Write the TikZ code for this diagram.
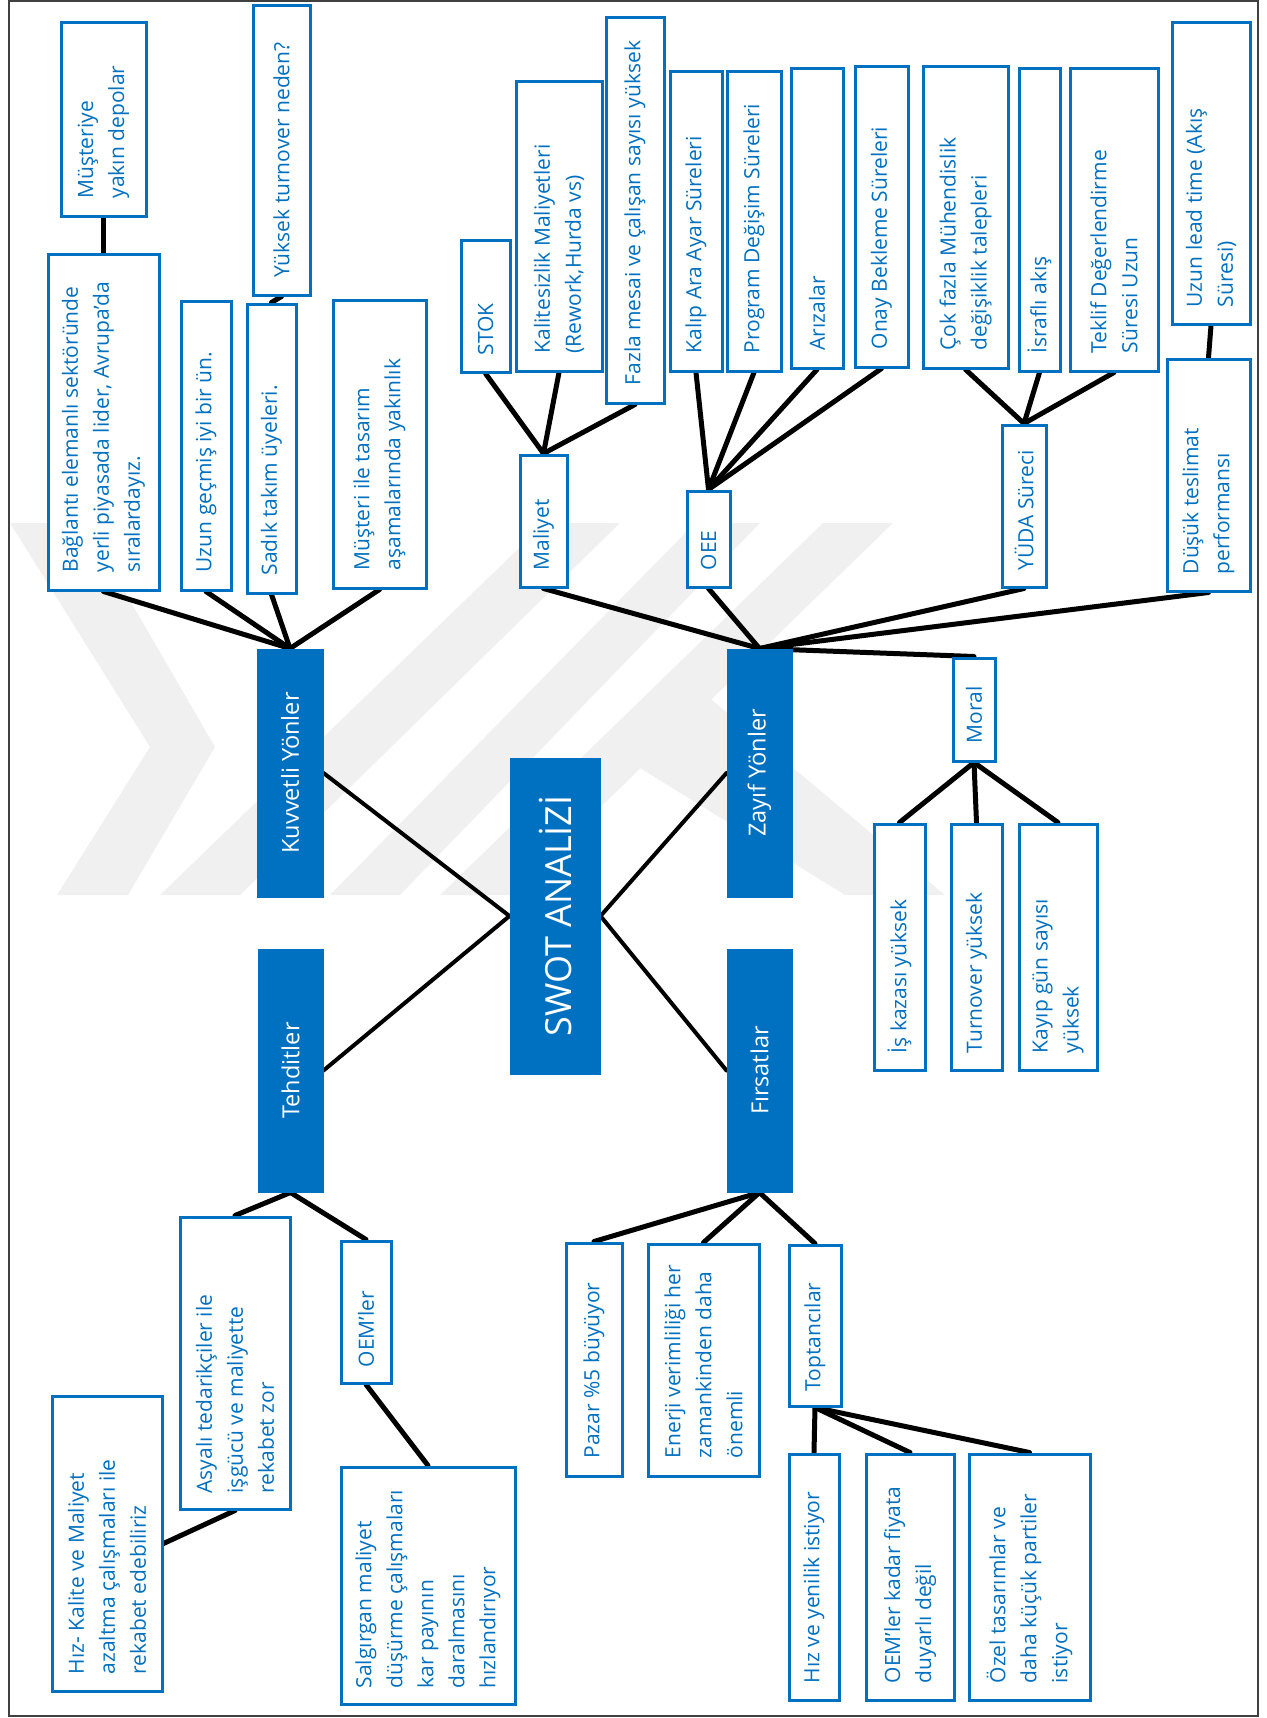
\documentclass[tikz,border=0pt]{standalone}
\usepackage{fontspec}
\setmainfont{Open Sans}
\usetikzlibrary{calc,fit,backgrounds}
\definecolor{swblue}{HTML}{0070C0}
\tikzset{
  wbox/.style={draw=swblue, line width=3pt, fill=white, inner sep=0pt, rectangle},
  catbox/.style={fill=swblue, draw=swblue, line width=1pt, inner sep=0pt, rectangle},
  wtxt/.style={rotate=90, anchor=west, align=left, text=swblue, inner sep=0pt,
    font=\fontsize{21pt}{31pt}\selectfont},
  cattxt/.style={rotate=90, anchor=center, text=white, inner sep=0pt,
    font=\fontsize{23.5pt}{28pt}\selectfont},
  conn/.style={line width=5pt, line cap=round, black},
  hubconn/.style={line width=4pt, line cap=round, black},
  wmark/.style={fill=black!6, draw=none},
  pageframe/.style={draw=black!75, line width=1.5pt},
}
\begin{document}
\begin{tikzpicture}[x=1pt,y=1pt]
\useasboundingbox (0,0) rectangle (1266,-1718);

% ---------- centre and the four headings ----------
\node[catbox, fit={(510,-758)(600,-1074)}] (swot) {};
\node[cattxt, font=\fontsize{36pt}{40pt}\selectfont] (swotT) at (swot.center) {SWOT ANALİZİ};
\node[catbox, fit={(257,-649)(323,-897)}] (kuv) {};
\node[cattxt] (kuvT) at (kuv.center) {Kuvvetli Yönler};
\node[catbox, fit={(727,-649)(792,-897)}] (zay) {};
\node[cattxt] (zayT) at (zay.center) {Zayıf Yönler};
\node[catbox, fit={(258,-949)(323,-1192)}] (teh) {};
\node[cattxt] (tehT) at (teh.center) {Tehditler};
\node[catbox, fit={(727,-949)(792,-1192)}] (fir) {};
\node[cattxt] (firT) at (fir.center) {Fırsatlar};

% ---------- strengths ----------
\node[wbox, fit={(61,-23)(146,-216)}] (mus) {};
\node[wtxt] (musT) at ($(mus.south)+(0,19)$) {Müşteriye\\yakın depolar};
\node[wbox, fit={(48,-254)(159,-590)}] (bag) {};
\node[wtxt] (bagT) at ($(bag.south)+(0,19)$) {Bağlantı elemanlı sektöründe\\yerli piyasada lider, Avrupa'da\\sıralardayız.};
\node[wbox, fit={(181,-301)(231,-590)}] (uzun) {};
\node[wtxt] (uzunT) at ($(uzun.south)+(0,19)$) {Uzun geçmiş iyi bir ün.};
\node[wbox, fit={(247,-304)(296,-593)}] (sadik) {};
\node[wtxt] (sadikT) at ($(sadik.south)+(0,19)$) {Sadık takım üyeleri.};
\node[wbox, fit={(253,-6)(310,-295)}] (yuk) {};
\node[wtxt] (yukT) at ($(yuk.south)+(0,19)$) {Yüksek turnover neden?};
\node[wbox, fit={(333,-300)(426,-588)}] (must) {};
\node[wtxt] (mustT) at ($(must.south)+(0,19)$) {Müşteri ile tasarım\\aşamalarında yakınlık};

% ---------- weaknesses ----------
\node[wbox, fit={(461,-240)(510,-372)}] (stok) {};
\node[wtxt] (stokT) at ($(stok.south)+(0,18)$) {STOK};
\node[wbox, fit={(516,-82)(602,-371)}] (kal) {};
\node[wtxt] (kalT) at ($(kal.south)+(0,19)$) {Kalitesizlik Maliyetleri\\(Rework,Hurda vs)};
\node[wbox, fit={(606,-18)(664,-403)}] (faz) {};
\node[wtxt] (fazT) at ($(faz.south)+(0,19)$) {Fazla mesai ve çalışan sayısı yüksek};
\node[wbox, fit={(670,-72)(722,-371)}] (kalip) {};
\node[wtxt] (kalipT) at ($(kalip.south)+(0,19)$) {Kalıp Ara Ayar Süreleri};
\node[wbox, fit={(727,-72)(781,-371)}] (prog) {};
\node[wtxt] (progT) at ($(prog.south)+(0,19)$) {Program Değişim Süreleri};
\node[wbox, fit={(791,-69)(843,-368)}] (ariza) {};
\node[wtxt] (arizaT) at ($(ariza.south)+(0,19)$) {Arızalar};
\node[wbox, fit={(855,-67)(908,-367)}] (onay) {};
\node[wtxt] (onayT) at ($(onay.south)+(0,19)$) {Onay Bekleme Süreleri};
\node[wbox, fit={(923,-67)(1008,-368)}] (cok) {};
\node[wtxt] (cokT) at ($(cok.south)+(0,19)$) {Çok fazla Mühendislik\\değişiklik talepleri};
\node[wbox, fit={(1019,-69)(1060,-371)}] (israf) {};
\node[wtxt] (israfT) at ($(israf.south)+(0,19)$) {İsraflı akış};
\node[wbox, fit={(1070,-69)(1158,-371)}] (teklif) {};
\node[wtxt] (teklifT) at ($(teklif.south)+(0,19)$) {Teklif Değerlendirme\\Süresi Uzun};
\node[wbox, fit={(1172,-23)(1250,-324)}] (lead) {};
\node[wtxt] (leadT) at ($(lead.south)+(0,18)$) {Uzun lead time (Akış\\Süresi)};
\node[wbox, fit={(520,-455)(567,-587)}] (mal) {};
\node[wtxt] (malT) at ($(mal.south)+(0,18)$) {Maliyet};
\node[wbox, fit={(687,-491)(730,-587)}] (oee) {};
\node[wtxt] (oeeT) at ($(oee.south)+(0,18)$) {OEE};
\node[wbox, fit={(1002,-425)(1046,-587)}] (yuda) {};
\node[wtxt] (yudaT) at ($(yuda.south)+(0,18)$) {YÜDA Süreci};
\node[wbox, fit={(1167,-359)(1250,-591)}] (dusuk) {};
\node[wtxt] (dusukT) at ($(dusuk.south)+(0,18)$) {Düşük teslimat\\performansı};
\node[wbox, fit={(953,-658)(995,-761)}] (moral) {};
\node[wtxt] (moralT) at ($(moral.south)+(0,19)$) {Moral};
\node[wbox, fit={(874,-824)(925,-1070)}] (iskaz) {};
\node[wtxt] (iskazT) at ($(iskaz.south)+(0,18)$) {İş kazası yüksek};
\node[wbox, fit={(951,-824)(1002,-1070)}] (turn) {};
\node[wtxt] (turnT) at ($(turn.south)+(0,18)$) {Turnover yüksek};
\node[wbox, fit={(1019,-824)(1097,-1070)}] (kayip) {};
\node[wtxt] (kayipT) at ($(kayip.south)+(0,18)$) {Kayıp gün sayısı\\yüksek};

% ---------- threats ----------
\node[wbox, fit={(180,-1217)(290,-1509)}] (asya) {};
\node[wtxt] (asyaT) at ($(asya.south)+(0,17)$) {Asyalı tedarikçiler ile\\işgücü ve maliyette\\rekabet zor};
\node[wbox, fit={(341,-1241)(391,-1383)}] (oem) {};
\node[wtxt] (oemT) at ($(oem.south)+(0,17)$) {OEM'ler};
\node[wbox, fit={(52,-1396)(162,-1691)}] (hizk) {};
\node[wtxt] (hizkT) at ($(hizk.south)+(0,18)$) {Hız- Kalite ve Maliyet\\azaltma çalışmaları ile\\rekabet edebiliriz};
\node[wbox, fit={(341,-1467)(515,-1704)}] (salg) {};
\node[wtxt] (salgT) at ($(salg.south)+(0,17)$) {Salgırgan maliyet\\düşürme çalışmaları\\kar payının\\daralmasını\\hızlandırıyor};

% ---------- opportunities ----------
\node[wbox, fit={(566,-1243)(622,-1476)}] (pazar) {};
\node[wtxt] (pazarT) at ($(pazar.south)+(0,19)$) {Pazar \%5 büyüyor};
\node[wbox, fit={(648,-1244)(759,-1476)}] (enerji) {};
\node[wtxt] (enerjiT) at ($(enerji.south)+(0,19)$) {Enerji verimliliği her\\zamankinden daha\\önemli};
\node[wbox, fit={(789,-1245)(841,-1406)}] (topt) {};
\node[wtxt] (toptT) at ($(topt.south)+(0,16)$) {Toptancılar};
\node[wbox, fit={(789,-1454)(839,-1700)}] (hizy) {};
\node[wtxt] (hizyT) at ($(hizy.south)+(0,18)$) {Hız ve yenilik istiyor};
\node[wbox, fit={(866,-1454)(954,-1700)}] (oemk) {};
\node[wtxt] (oemkT) at ($(oemk.south)+(0,18)$) {OEM'ler kadar fiyata\\duyarlı değil};
\node[wbox, fit={(969,-1454)(1090,-1700)}] (ozel) {};
\node[wtxt] (ozelT) at ($(ozel.south)+(0,18)$) {Özel tasarımlar ve\\daha küçük partiler\\istiyor};

\begin{scope}[on background layer]
  % faint emblem behind the diagram
  \fill[wmark] (10,-523) -- (85,-523) -- (215,-747) -- (128,-895) -- (57,-895) -- (150,-747) -- cycle;
  \fill[wmark] (160,-895) -- (240,-895) -- (620,-523) -- (545,-523) -- cycle;
  \fill[wmark] (330,-895) -- (400,-895) -- (760,-523) -- (695,-523) -- cycle;
  \fill[wmark] (440,-895) -- (510,-895) -- (893,-523) -- (823,-523) -- cycle;
  \fill[wmark] (700,-690) -- (945,-895) -- (845,-895) -- (640,-768) -- cycle;

  % connectors
  \draw[hubconn] (swot.west) -- (kuv.east);
  \draw[hubconn] (swot.west) -- (teh.east);
  \draw[hubconn] (swot.east) -- (zay.west);
  \draw[hubconn] (swot.east) -- (fir.west);

  \draw[conn] (mus.south) -- (bag.north);
  \draw[conn] (sadik.north) -- (yuk.south);
  \foreach \t in {bag,uzun,sadik,must} \draw[conn] (kuv.north) -- (\t.south);

  \foreach \t in {stok,kal,faz} \draw[conn] (mal.north) -- (\t.south);
  \foreach \t in {kalip,prog,ariza,onay} \draw[conn] (oee.north) -- (\t.south);
  \foreach \t in {cok,israf,teklif} \draw[conn] (yuda.north) -- (\t.south);
  \draw[conn] (lead.south) -- (dusuk.north);
  \foreach \t in {mal,oee,yuda,dusuk} \draw[conn] (zay.north) -- (\t.south);
  \draw[conn] (zay.north) -- (moral.north);
  \foreach \t in {iskaz,turn,kayip} \draw[conn] (moral.south) -- (\t.north);

  \draw[conn] (teh.south) -- (asya.north);
  \draw[conn] (teh.south) -- (oem.north);
  \draw[conn] (asya.south) -- (hizk.east);
  \draw[conn] (oem.south) -- (salg.north);

  \foreach \t in {pazar,enerji,topt} \draw[conn] (fir.south) -- (\t.north);
  \foreach \t in {hizy,oemk,ozel} \draw[conn] (topt.south) -- (\t.north);
\end{scope}

% page frame
\draw[pageframe] (9,-1) rectangle (1258,-1716);
\end{tikzpicture}
\end{document}
